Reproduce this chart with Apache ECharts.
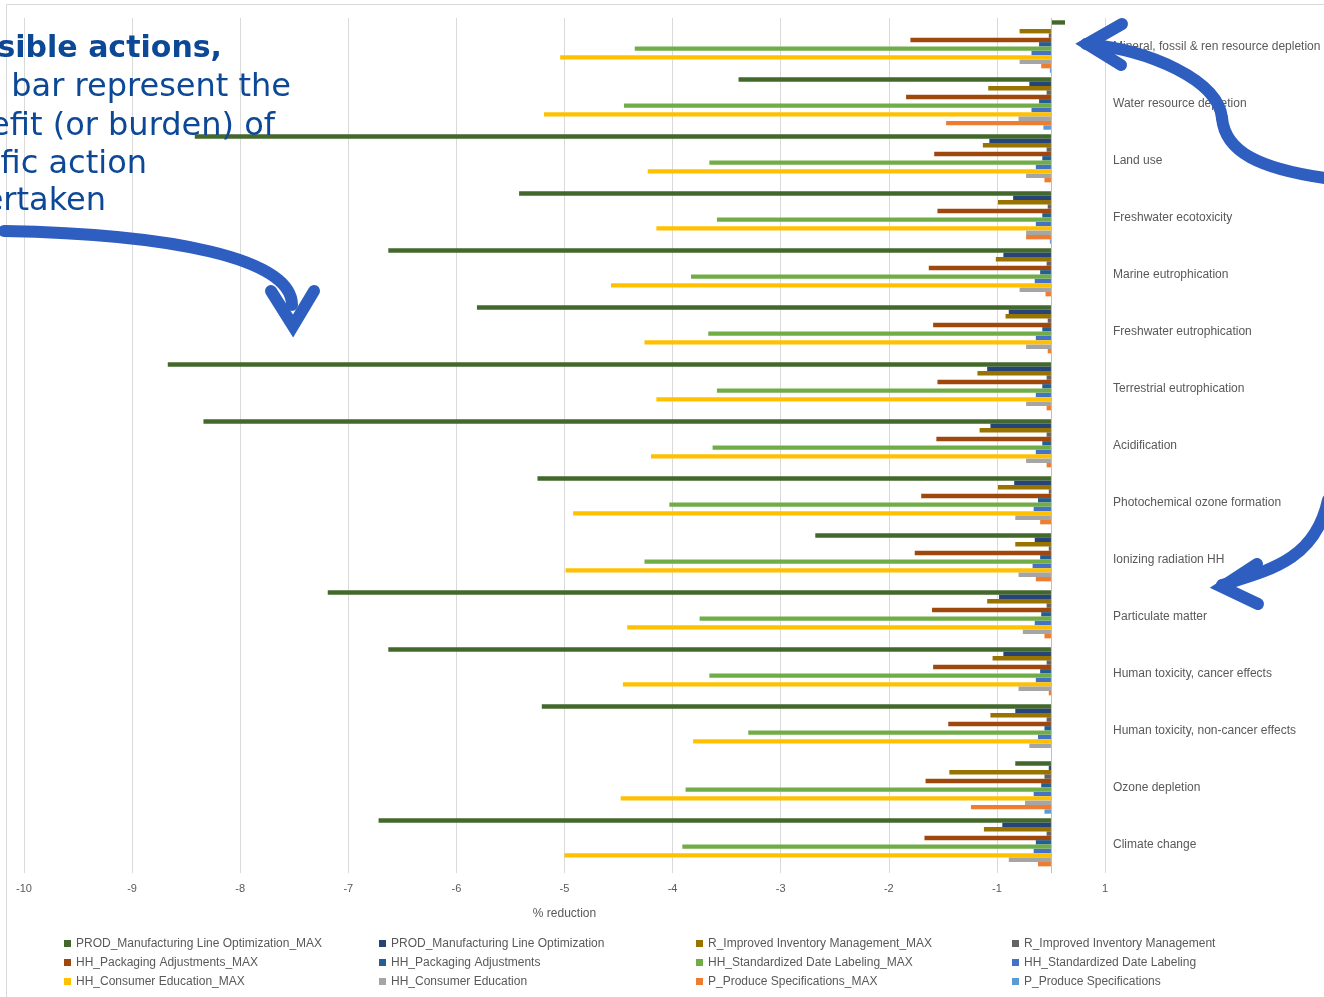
<!DOCTYPE html>
<html>
<head>
<meta charset="utf-8">
<script src="https://cdn.jsdelivr.net/npm/echarts@6/dist/echarts.min.js"></script>
<style>
  html, body { margin: 0; padding: 0; background: #fff; }
  #chart { width: 1324px; height: 997px; }
</style>
</head>
<body>
<div id="chart"></div>
<script>
// impact categories, top to bottom
var categories = [
    'Mineral, fossil & ren resource depletion',
    'Water resource depletion',
    'Land use',
    'Freshwater ecotoxicity',
    'Marine eutrophication',
    'Freshwater eutrophication',
    'Terrestrial eutrophication',
    'Acidification',
    'Photochemical ozone formation',
    'Ionizing radiation HH',
    'Particulate matter',
    'Human toxicity, cancer effects',
    'Human toxicity, non-cancer effects',
    'Ozone depletion',
    'Climate change'
];

var seriesNames = [
    'PROD_Manufacturing Line Optimization_MAX',
    'PROD_Manufacturing Line Optimization',
    'R_Improved Inventory Management_MAX',
    'R_Improved Inventory Management',
    'HH_Packaging Adjustments_MAX',
    'HH_Packaging Adjustments',
    'HH_Standardized Date Labeling_MAX',
    'HH_Standardized Date Labeling',
    'HH_Consumer Education_MAX',
    'HH_Consumer Education',
    'P_Produce Specifications_MAX',
    'P_Produce Specifications'
];

// % reduction per category (same order as categories)
var prodMax = [0.13, -2.89, -7.92, -4.92, -6.13, -5.31, -8.17, -7.84, -4.75, -2.18, -6.69, -6.13, -4.71, -0.33, -6.22];
var prod    = [0.01, -0.20, -0.57, -0.35, -0.44, -0.39, -0.59, -0.56, -0.34, -0.15, -0.48, -0.44, -0.33, -0.02, -0.45];
var invMax  = [-0.29, -0.58, -0.63, -0.49, -0.51, -0.42, -0.68, -0.66, -0.49, -0.33, -0.59, -0.54, -0.56, -0.94, -0.62];
var inv     = [-0.02, -0.04, -0.04, -0.03, -0.04, -0.03, -0.04, -0.04, -0.02, -0.02, -0.04, -0.04, -0.04, -0.06, -0.04];
var packMax = [-1.30, -1.34, -1.08, -1.05, -1.13, -1.09, -1.05, -1.06, -1.20, -1.26, -1.10, -1.09, -0.95, -1.16, -1.17];
var pack    = [-0.11, -0.11, -0.08, -0.08, -0.10, -0.08, -0.08, -0.08, -0.12, -0.10, -0.09, -0.10, -0.06, -0.09, -0.14];
var dateMax = [-3.85, -3.95, -3.16, -3.09, -3.33, -3.17, -3.09, -3.13, -3.53, -3.76, -3.25, -3.16, -2.80, -3.38, -3.41];
var date    = [-0.18, -0.18, -0.14, -0.14, -0.15, -0.14, -0.14, -0.14, -0.16, -0.17, -0.15, -0.14, -0.12, -0.16, -0.16];
var eduMax  = [-4.54, -4.69, -3.73, -3.65, -4.07, -3.76, -3.65, -3.70, -4.42, -4.49, -3.92, -3.96, -3.31, -3.98, -4.50];
var edu     = [-0.29, -0.30, -0.23, -0.23, -0.29, -0.23, -0.23, -0.23, -0.33, -0.30, -0.26, -0.30, -0.20, -0.24, -0.39];
var specMax = [-0.09, -0.97, -0.06, -0.23, -0.05, -0.03, -0.04, -0.04, -0.10, -0.14, -0.06, -0.02, 0, -0.74, -0.12];
var spec    = [-0.01, -0.07, 0, -0.01, 0, 0, 0, 0, 0, 0, 0, 0, 0, -0.06, 0];

var allData = [prodMax, prod, invMax, inv, packMax, pack, dateMax, date, eduMax, edu, specMax, spec];
var colors = ['#43682b', '#264478', '#997300', '#636363', '#9e480e', '#255e91',
              '#70ad47', '#4472c4', '#ffc000', '#a5a5a5', '#ed7d31', '#5b9bd5'];

var FONT = '"Liberation Sans", Arial, sans-serif';
var chart = echarts.init(document.getElementById('chart'));

var series = [];
for (var i = 0; i < seriesNames.length; i++) {
    series.push({
        name: seriesNames[i],
        type: 'bar',
        data: allData[i],
        barGap: '0%',
        barCategoryGap: '8%',
        itemStyle: { color: colors[i] }
    });
}
// vertical axis line at zero
series[0].markLine = {
    silent: true,
    symbol: 'none',
    label: { show: false },
    lineStyle: { color: '#bfbfbf', width: 1, type: 'solid' },
    data: [{ xAxis: 0 }]
};

// legend laid out as 4 columns of 3
var legendCols = [[0, 4, 8], [1, 5, 9], [2, 6, 10], [3, 7, 11]];
var legendLeft = [64, 379, 696, 1012];
var legends = legendCols.map(function (col, k) {
    return {
        orient: 'vertical',
        left: legendLeft[k],
        top: 934,
        height: 60,
        padding: 0,
        itemWidth: 7,
        itemHeight: 7,
        itemGap: 0,
        icon: 'rect',
        data: col.map(function (j) { return seriesNames[j]; }),
        textStyle: { color: '#595959', fontSize: 12, fontFamily: FONT, lineHeight: 19 }
    };
});

var ARROW = '#2e5ec0';
var TXT = '#0d4896';
var arrowStyle = { stroke: ARROW, lineWidth: 12, lineCap: 'round', lineJoin: 'miter', fill: null };

chart.setOption({
    animation: false,
    backgroundColor: '#fff',
    grid: { left: 24, right: 219, top: 18, bottom: 124, containLabel: false },
    legend: legends,
    xAxis: {
        type: 'value',
        min: -9.5,
        max: 0.5,
        interval: 1,
        name: '% reduction',
        nameLocation: 'middle',
        nameGap: 35,
        nameTextStyle: { color: '#595959', fontSize: 12, fontFamily: FONT },
        axisLine: { show: false },
        axisTick: { show: false },
        axisLabel: {
            color: '#595959', fontSize: 11, fontFamily: FONT, margin: 10,
            formatter: function (v) {
                var s = v < 0 ? -1 : 1;
                return String(s * Math.round(Math.abs(v)));
            }
        },
        splitLine: { lineStyle: { color: '#d9d9d9' } }
    },
    yAxis: {
        type: 'category',
        data: categories,
        inverse: true,
        position: 'right',
        axisLine: { show: false },
        axisTick: { show: false },
        splitLine: { show: false },
        axisLabel: { color: '#595959', fontSize: 12, fontFamily: FONT, margin: 8, align: 'left' }
    },
    series: series,
    graphic: [
        // chart area border
        { type: 'rect', z: 0, silent: true, shape: { x: 6.5, y: 4.5, width: 1400, height: 1100 },
          style: { fill: null, stroke: '#d9d9d9', lineWidth: 1 } },
        // annotation text
        { type: 'text', z: 100, x: 222, y: 49,
          style: { text: 'possible actions,', fill: TXT, font: 'bold 30px "DejaVu Sans", sans-serif', align: 'right', verticalAlign: 'middle' } },
        { type: 'text', z: 100, x: 291, y: 88,
          style: { text: 'each bar represent the', fill: TXT, font: '32px "DejaVu Sans", sans-serif', align: 'right', verticalAlign: 'middle' } },
        { type: 'text', z: 100, x: 275, y: 127,
          style: { text: 'benefit (or burden) of', fill: TXT, font: '32px "DejaVu Sans", sans-serif', align: 'right', verticalAlign: 'middle' } },
        { type: 'text', z: 100, x: 147, y: 165,
          style: { text: 'specific action', fill: TXT, font: '32px "DejaVu Sans", sans-serif', align: 'right', verticalAlign: 'middle' } },
        { type: 'text', z: 100, x: 106, y: 202,
          style: { text: 'undertaken', fill: TXT, font: '32px "DejaVu Sans", sans-serif', align: 'right', verticalAlign: 'middle' } },
        // arrow pointing down at the bars
        { type: 'bezierCurve', z: 100, silent: true,
          shape: { x1: 4, y1: 231, cpx1: 170, cpy1: 234, cpx2: 292, cpy2: 258, x2: 292, y2: 305 },
          style: arrowStyle },
        { type: 'polyline', z: 100, silent: true,
          shape: { points: [[271, 291], [293, 326], [314, 291]] }, style: arrowStyle },
        // arrow pointing at the top bar (S-shaped)
        { type: 'bezierCurve', z: 100, silent: true,
          shape: { x1: 1340, y1: 180, cpx1: 1255, cpy1: 170, cpx2: 1225, cpy2: 150, x2: 1222, y2: 118 },
          style: arrowStyle },
        { type: 'bezierCurve', z: 100, silent: true,
          shape: { x1: 1222, y1: 118, cpx1: 1218, cpy1: 80, cpx2: 1150, cpy2: 50, x2: 1086, y2: 44 },
          style: arrowStyle },
        { type: 'polyline', z: 100, silent: true,
          shape: { points: [[1122, 24], [1087, 44], [1121, 65]] }, style: arrowStyle },
        // arrow pointing at the ionizing radiation label
        { type: 'bezierCurve', z: 100, silent: true,
          shape: { x1: 1328, y1: 500, cpx1: 1315, cpy1: 560, cpx2: 1270, cpy2: 570, x2: 1222, y2: 585 },
          style: arrowStyle },
        { type: 'polyline', z: 100, silent: true,
          shape: { points: [[1257, 564], [1222, 587], [1258, 604]] }, style: arrowStyle }
    ]
});
</script>
</body>
</html>
